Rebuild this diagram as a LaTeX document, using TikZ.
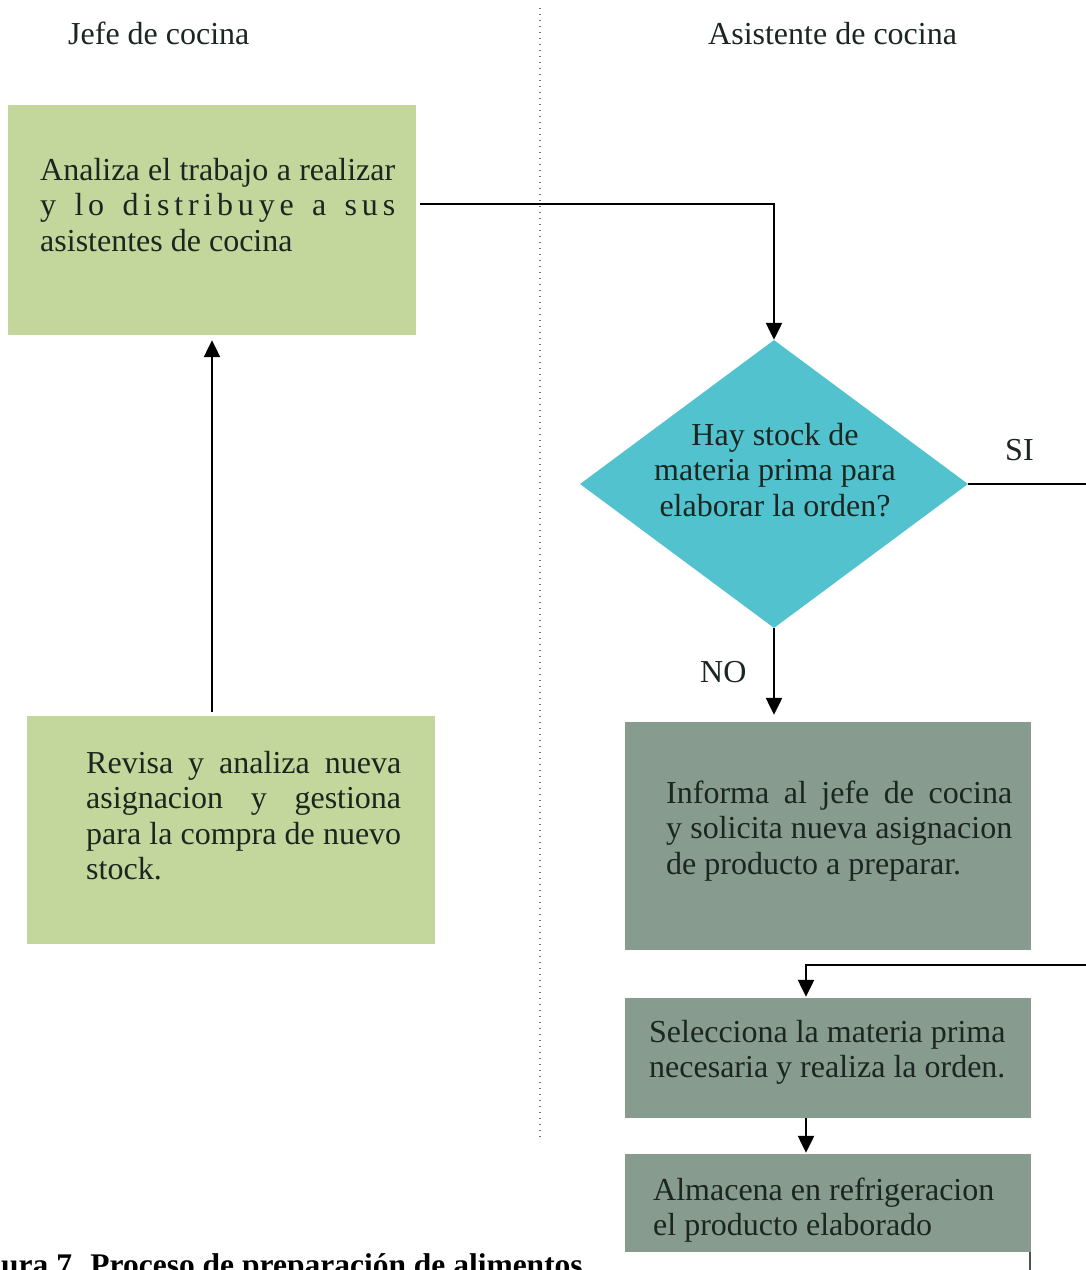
\documentclass[tikz,border=0pt]{standalone}
\usepackage{fontspec}
\setmainfont{Liberation Serif}
\usetikzlibrary{shapes.geometric,arrows.meta}

\definecolor{jefegreen}{HTML}{C3D69B}
\definecolor{stockteal}{HTML}{52C3CE}
\definecolor{asisgray}{HTML}{879B8E}
\definecolor{ink}{HTML}{1C2620}

% one justified line of a text block
\newcommand\jline[1]{\hbox to \linewidth{#1}}

\tikzset{
  lanebox/.style={rectangle, inner sep=0pt, draw=none},
  greenbox/.style={lanebox, fill=jefegreen},
  graybox/.style={lanebox, fill=asisgray},
  decision/.style={diamond, fill=stockteal, inner sep=0pt,
    minimum width=388pt, minimum height=288pt},
  txt/.style={inner sep=0pt, anchor=base west, text=ink,
    font=\fontsize{32}{35.5}\selectfont},
  flow/.style={line width=2.3pt, draw=black, -{Triangle[width=16pt,length=17pt]}},
}

\begin{document}
\begin{tikzpicture}[x=1pt,y=-1pt]
\useasboundingbox (0,0) rectangle (1086,1270);
\clip (0,0) rectangle (1086,1270);
\fill[white] (0,0) rectangle (1086,1270);

% lane separator
\draw[black!55, line width=1.3pt, dash pattern=on 1.3pt off 4.7pt] (540,8) -- (540,1142);

% lane headers
\node[txt] (hjefe) at (68,44) {Jefe de cocina};
\node[txt] (hasis) at (708,44) {Asistente de cocina};

% Jefe de cocina
\node[greenbox, minimum width=408pt, minimum height=230pt] (analiza) at (212,220) {};
\node[txt] (tanaliza) at (40,180) {\parbox[t]{355pt}{%
  \jline{Analiza el trabajo a realizar}%
  \jline{\addfontfeature{LetterSpace=15}y\hfil lo\hfil distribuye\hfil a\hfil sus}%
  asistentes de cocina}};

\node[greenbox, minimum width=408pt, minimum height=228pt] (revisa) at (231,830) {};
\node[txt] (trevisa) at (86,773) {\parbox[t]{315pt}{%
  \jline{Revisa y analiza nueva}%
  \jline{asignacion y gestiona}%
  \jline{para la compra de nuevo}%
  stock.}};

% Asistente de cocina
\node[decision] (stock) at (774,484) {};
\node[txt, anchor=base] (tstock) at (775,445) {\parbox[t]{320pt}{\centering
  Hay stock de\\materia prima para\\elaborar la orden?}};

\node[graybox, minimum width=406pt, minimum height=228pt] (informa) at (828,836) {};
\node[txt] (tinforma) at (666,803) {\parbox[t]{346pt}{%
  \jline{Informa al jefe de cocina}%
  \jline{y solicita nueva asignacion}%
  de producto a preparar.}};

\node[graybox, minimum width=406pt, minimum height=120pt] (selecciona) at (828,1058) {};
\node[txt] (tselecciona) at (649,1042) {\parbox[t]{380pt}{%
  Selecciona la materia prima\\necesaria y realiza la orden.}};

\node[graybox, minimum width=406pt, minimum height=98pt] (almacena) at (828,1203) {};
\node[txt] (talmacena) at (653,1200) {\parbox[t]{380pt}{%
  Almacena en refrigeracion\\el producto elaborado}};
\draw[asisgray!55!black, line width=1.5pt] ([xshift=-1pt]almacena.south east) -- ++(0,30);

% branch labels
\node[txt] (lsi) at (1005,460) {SI};
\node[txt] (lno) at (700,682) {NO};

% connectors
\coordinate (retorno) at (1100,965);
\draw[flow] ([yshift=16pt, xshift=4pt]analiza.east) -| (stock.north);
\draw[flow, shorten <=4pt, shorten >=5pt] (revisa.north -| analiza.south) -- (analiza.south);
\draw[flow, shorten >=7pt] (stock.south) -- (informa.north -| stock.south);
\draw[flow, shorten >=1pt] (stock.east) -- (stock.east -| retorno) -- (retorno)
  -| ([xshift=-22pt]selecciona.north);
\draw[flow, shorten >=1pt] ([xshift=-22pt]selecciona.south) -- ([xshift=-22pt]almacena.north);

% caption
\node[anchor=base west, inner sep=0pt, text=black,
  font=\bfseries\fontsize{31.5}{36}\selectfont] (caption) at (1,1275)
  {ura 7. Proceso de preparación de alimentos};
\end{tikzpicture}
\end{document}
